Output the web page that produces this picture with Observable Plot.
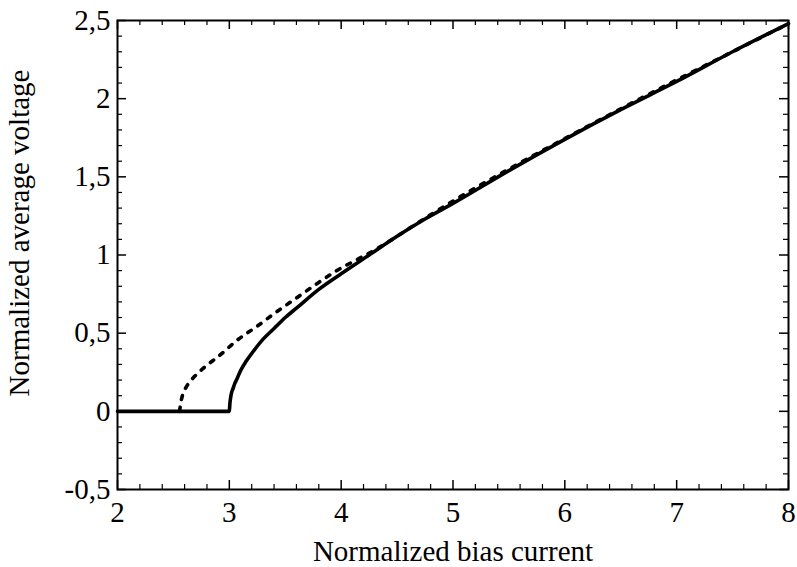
<!DOCTYPE html>
<html>
<head>
<meta charset="utf-8">
<script src="https://cdn.jsdelivr.net/npm/d3@7"></script>
<script src="https://cdn.jsdelivr.net/npm/@observablehq/plot@0.6"></script>
<style>
  html, body { margin: 0; padding: 0; background: #fff; }
  #chart svg { display: block; }
  #chart svg, #chart svg text { font-family: "Liberation Serif", "Times New Roman", serif !important; }
</style>
</head>
<body>
<div id="chart"></div>
<script>
// Solid curve
const solidX = [2, 2.5, 3.0, 3.005, 3.01, 3.02, 3.03, 3.05, 3.07, 3.1, 3.15, 3.2, 3.3, 3.4, 3.5, 3.6, 3.8, 4.0, 4.25, 4.5, 4.75, 5.0, 5.5, 6.0, 6.5, 7.0, 7.5, 8.0];
const solidY = [0, 0, 0, 0.05, 0.08, 0.12, 0.14, 0.18, 0.21, 0.26, 0.32, 0.37, 0.46, 0.53, 0.60, 0.66, 0.78, 0.88, 1.00, 1.12, 1.23, 1.33, 1.54, 1.74, 1.93, 2.11, 2.30, 2.48];
// Dashed curve
const dashX = [2.555, 2.565, 2.58, 2.61, 2.66, 2.72, 2.8, 2.9, 3.07, 3.25, 3.43, 3.61, 3.79, 3.96, 4.14, 4.32, 4.5, 4.75, 5.0, 5.5, 6.0, 6.5, 7.0, 7.5, 8.0];
const dashY = [0, 0.05, 0.10, 0.15, 0.20, 0.245, 0.295, 0.35, 0.455, 0.545, 0.64, 0.73, 0.82, 0.90, 0.97, 1.04, 1.12, 1.235, 1.345, 1.55, 1.745, 1.935, 2.12, 2.30, 2.48];

const xTicks = [2, 3, 4, 5, 6, 7, 8];
const xMinor = [2.2, 2.4, 2.6, 2.8, 3.2, 3.4, 3.6, 3.8, 4.2, 4.4, 4.6, 4.8, 5.2, 5.4, 5.6, 5.8, 6.2, 6.4, 6.6, 6.8, 7.2, 7.4, 7.6, 7.8];
const yTicks = [-0.5, 0, 0.5, 1, 1.5, 2, 2.5];
const yMinor = [-0.4, -0.3, -0.2, -0.1, 0.1, 0.2, 0.3, 0.4, 0.6, 0.7, 0.8, 0.9, 1.1, 1.2, 1.3, 1.4, 1.6, 1.7, 1.8, 1.9, 2.1, 2.2, 2.3, 2.4];
const xLabel = "Normalized bias current";
const yLabel = "Normalized average voltage";

const solid = solidX.map((x, i) => ({x, y: solidY[i]}));
const dashed = dashX.map((x, i) => ({x, y: dashY[i]}));

const W = 797, H = 567;
const mL = 117, mR = 9, mT = 20, mB = 78;
const innerW = W - mL - mR, innerH = H - mT - mB;
const majorLen = 9, minorLen = 5;
const fmt = d => String(d).replace(".", ",");
const serif = "'Liberation Serif', 'Times New Roman', serif";

const chart = Plot.plot({
  width: W,
  height: H,
  marginLeft: mL,
  marginRight: mR,
  marginTop: mT,
  marginBottom: mB,
  style: {fontFamily: serif, background: "#fff", color: "#000"},
  x: {domain: [2, 8]},
  y: {domain: [-0.5, 2.5]},
  marks: [
    // tick marks (inward) on all four sides
    Plot.tickX(xTicks, {x: d => d, insetTop: innerH - majorLen, stroke: "#000", strokeWidth: 1.5}),
    Plot.tickX(xTicks, {x: d => d, insetBottom: innerH - majorLen, stroke: "#000", strokeWidth: 1.5}),
    Plot.tickX(xMinor, {x: d => d, insetTop: innerH - minorLen, stroke: "#000", strokeWidth: 1.2}),
    Plot.tickX(xMinor, {x: d => d, insetBottom: innerH - minorLen, stroke: "#000", strokeWidth: 1.2}),
    Plot.tickY(yTicks, {y: d => d, insetRight: innerW - majorLen, stroke: "#000", strokeWidth: 1.5}),
    Plot.tickY(yTicks, {y: d => d, insetLeft: innerW - majorLen, stroke: "#000", strokeWidth: 1.5}),
    Plot.tickY(yMinor, {y: d => d, insetRight: innerW - minorLen, stroke: "#000", strokeWidth: 1.2}),
    Plot.tickY(yMinor, {y: d => d, insetLeft: innerW - minorLen, stroke: "#000", strokeWidth: 1.2}),
    Plot.axisX({ticks: xTicks, tickSize: 0, tickPadding: 12, tickFormat: fmt, fontSize: 29, fontFamily: serif,
      label: xLabel, labelAnchor: "center", labelOffset: 71, labelArrow: "none"}),
    Plot.axisY({ticks: yTicks, tickSize: 0, tickPadding: 7, tickFormat: fmt, fontSize: 29, fontFamily: serif,
      label: null}),
    Plot.text([yLabel], {text: d => d, frameAnchor: "left", rotate: -90, dx: -109, dy: -22,
      textAnchor: "middle", lineAnchor: "top", fontSize: 29, fontFamily: serif, fill: "#000"}),
    Plot.line(dashed, {x: "x", y: "y", stroke: "#000", strokeWidth: 3.6, strokeDasharray: "4,8", curve: "monotone-x"}),
    Plot.line(solid, {x: "x", y: "y", stroke: "#000", strokeWidth: 3.6, curve: "monotone-x"}),
    Plot.frame({stroke: "#000", strokeWidth: 2})
  ]
});
document.getElementById("chart").appendChild(chart);
</script>
</body>
</html>
